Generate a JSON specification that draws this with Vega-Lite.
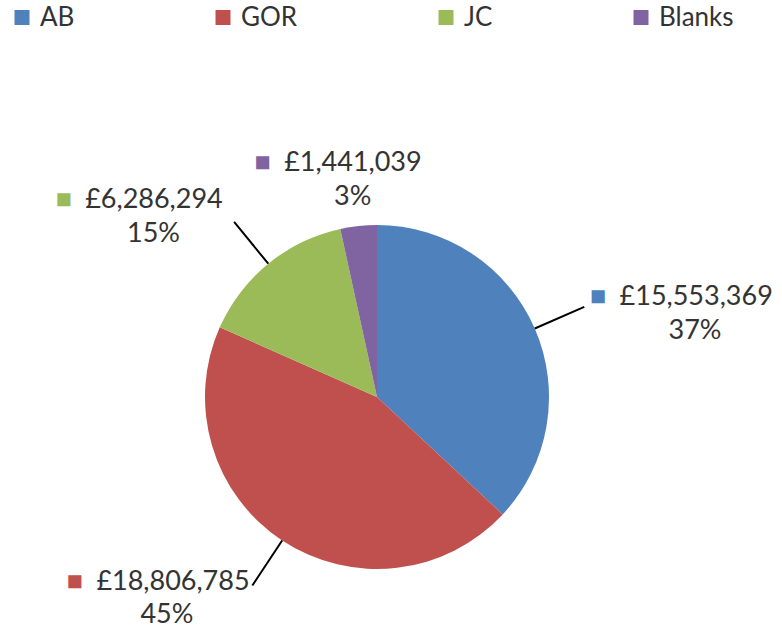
{
  "$schema": "https://vega.github.io/schema/vega-lite/v6.json",
  "width": 754,
  "height": 466,
  "autosize": {"type": "none"},
  "padding": {"left": 0, "top": 164, "right": 28, "bottom": 1},
  "background": "white",
  "config": {"view": {"stroke": null}, "font": "Lato"},
  "data": {
    "values": [
      {"cat": "AB", "idx": 1, "value": 15553369, "lab": "■\u2002£15,553,369\n\u200B\u2003\u2003\u2003\u2002\u200637%"},
      {"cat": "GOR", "idx": 2, "value": 18806785, "lab": "■\u2002£18,806,785\n45%\u2003\u2002\u2002\u2004\u200B"},
      {"cat": "JC", "idx": 3, "value": 6286294, "lab": "■\u2002£6,286,294\n15%\u2003\u2002\u2006\u2006\u200B"},
      {"cat": "Blanks", "idx": 4, "value": 1441039, "lab": "■\u2002£1,441,039\u2003\u2004\u200B\n3%"}
    ]
  },
  "layer": [
    {
      "mark": {"type": "arc", "outerRadius": 172},
      "encoding": {
        "theta": {"field": "value", "type": "quantitative", "stack": true},
        "order": {"field": "idx", "type": "quantitative"},
        "color": {
          "field": "cat",
          "type": "nominal",
          "scale": {"domain": ["AB", "GOR", "JC", "Blanks"], "range": ["#4F81BD", "#C0504D", "#9BBB59", "#8064A2"]},
          "legend": {
            "orient": "none",
            "legendX": 9,
            "legendY": -159.5,
            "direction": "horizontal",
            "columns": 4,
            "title": null,
            "symbolType": "square",
            "symbolSize": 225,
            "symbolStrokeWidth": 0,
            "symbolOpacity": 1,
            "labelFontSize": 26,
            "labelFont": "Lato",
            "labelColor": "#333333",
            "labelOffset": 5,
            "columnPadding": 135,
            "padding": 0,
            "labelLimit": 0
          }
        }
      }
    },
    {
      "mark": {"type": "arc", "innerRadius": 172, "outerRadius": 226, "padAngle": 3.14, "filled": false, "stroke": "#000000", "strokeWidth": 2},
      "encoding": {
        "theta": {"field": "value", "type": "quantitative", "stack": true},
        "order": {"field": "idx", "type": "quantitative"},
        "detail": {"field": "cat", "type": "nominal"},
        "strokeOpacity": {"condition": {"test": "datum.cat === 'Blanks'", "value": 0}, "value": 1}
      }
    },
    {
      "mark": {"type": "text", "radius": 232, "align": "left", "baseline": "alphabetic", "font": "Lato", "fontSize": 27, "lineBreak": "\n", "lineHeight": 34,
        "fill": {"gradient": "linear", "x1": 0, "x2": 1, "y1": 0, "y2": 0, "stops": [{"offset": 0, "color": "#4F81BD"}, {"offset": 0.11, "color": "#4F81BD"}, {"offset": 0.11, "color": "#333333"}, {"offset": 1, "color": "#333333"}]}},
      "encoding": {
        "theta": {"field": "value", "type": "quantitative", "stack": true},
        "order": {"field": "idx", "type": "quantitative"},
        "detail": {"field": "cat", "type": "nominal"},
        "text": {"field": "lab", "type": "nominal", "condition": {"test": "datum.cat !== 'AB'", "value": ""}}
      }
    },
    {
      "mark": {"type": "text", "radius": 231, "align": "right", "baseline": "alphabetic", "font": "Lato", "fontSize": 27, "lineBreak": "\n", "lineHeight": 33,
        "fill": {"gradient": "linear", "x1": 0, "x2": 1, "y1": 0, "y2": 0, "stops": [{"offset": 0, "color": "#C0504D"}, {"offset": 0.11, "color": "#C0504D"}, {"offset": 0.11, "color": "#333333"}, {"offset": 1, "color": "#333333"}]}},
      "encoding": {
        "theta": {"field": "value", "type": "quantitative", "stack": true},
        "order": {"field": "idx", "type": "quantitative"},
        "detail": {"field": "cat", "type": "nominal"},
        "text": {"field": "lab", "type": "nominal", "condition": {"test": "datum.cat !== 'GOR'", "value": ""}}
      }
    },
    {
      "mark": {"type": "text", "radius": 244, "align": "right", "baseline": "alphabetic", "font": "Lato", "fontSize": 27, "lineBreak": "\n", "lineHeight": 34,
        "fill": {"gradient": "linear", "x1": 0, "x2": 1, "y1": 0, "y2": 0, "stops": [{"offset": 0, "color": "#9BBB59"}, {"offset": 0.11, "color": "#9BBB59"}, {"offset": 0.11, "color": "#333333"}, {"offset": 1, "color": "#333333"}]}},
      "encoding": {
        "theta": {"field": "value", "type": "quantitative", "stack": true},
        "order": {"field": "idx", "type": "quantitative"},
        "detail": {"field": "cat", "type": "nominal"},
        "text": {"field": "lab", "type": "nominal", "condition": {"test": "datum.cat !== 'JC'", "value": ""}}
      }
    },
    {
      "mark": {"type": "text", "radius": 227, "align": "center", "baseline": "alphabetic", "font": "Lato", "fontSize": 27, "lineBreak": "\n", "lineHeight": 34,
        "fill": {"gradient": "linear", "x1": 0, "x2": 1, "y1": 0, "y2": 0, "stops": [{"offset": 0, "color": "#8064A2"}, {"offset": 0.1, "color": "#8064A2"}, {"offset": 0.1, "color": "#333333"}, {"offset": 1, "color": "#333333"}]}},
      "encoding": {
        "theta": {"field": "value", "type": "quantitative", "stack": true},
        "order": {"field": "idx", "type": "quantitative"},
        "detail": {"field": "cat", "type": "nominal"},
        "text": {"field": "lab", "type": "nominal", "condition": {"test": "datum.cat !== 'Blanks'", "value": ""}}
      }
    }
  ]
}
